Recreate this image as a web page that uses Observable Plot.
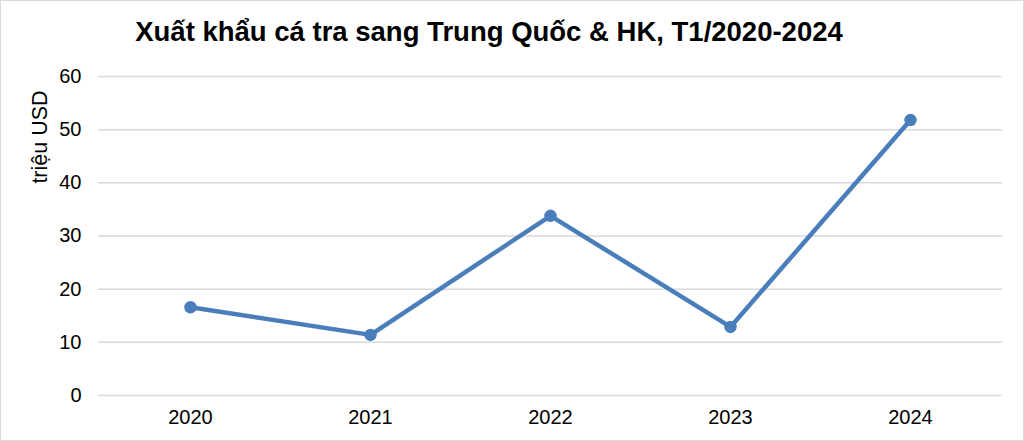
<!DOCTYPE html>
<html>
<head>
<meta charset="utf-8">
<script src="https://cdn.jsdelivr.net/npm/d3@7"></script>
<script src="https://cdn.jsdelivr.net/npm/@observablehq/plot@0.6"></script>
<style>
  html, body { margin: 0; padding: 0; background: #fff; }
  #wrap { position: relative; width: 1024px; height: 441px; overflow: hidden; font-family: "Liberation Sans", Arial, sans-serif; }
  #title { position: absolute; left: 0; width: 978px; top: 15px; text-align: center; font-weight: bold; font-size: 27.5px; line-height: 34px; color: #000; }
  #ylabel { position: absolute; left: 40px; top: 137px; transform: translate(-50%, -50%) rotate(-90deg); font-size: 21.5px; white-space: nowrap; color: #000; }
  #frame { position: absolute; left: 0; top: 0; width: 1022px; height: 439px; border: 1px solid #d9d9d9; pointer-events: none; }
  #chart svg { display: block; }
</style>
</head>
<body>
<div id="wrap">
  <div id="chart"></div>
  <div id="title">Xuất khẩu cá tra sang Trung Quốc &amp; HK, T1/2020-2024</div>
  <div id="ylabel">triệu USD</div>
  <div id="frame"></div>
</div>
<script>
const years = ["2020", "2021", "2022", "2023", "2024"];
const values = [16.6, 11.4, 33.8, 12.9, 51.8];
const yTicks = [0, 10, 20, 30, 40, 50, 60];

const data = years.map((y, i) => ({year: y, value: values[i]}));

const plot = Plot.plot({
  width: 1024,
  height: 441,
  marginTop: 76,
  marginBottom: 46,
  marginLeft: 98,
  marginRight: 22,
  style: {fontFamily: "'Liberation Sans', Arial, sans-serif", fontSize: "20px", color: "#000", background: "#fff"},
  x: {type: "point", domain: years, padding: 0.5, label: null},
  y: {domain: [0, 60], label: null},
  marks: [
    Plot.ruleY(yTicks, {stroke: "#d9d9d9", strokeWidth: 1.5}),
    Plot.axisY({ticks: yTicks, tickSize: 0, tickPadding: 17, label: null, fontSize: 20}),
    Plot.axisX({tickSize: 0, tickPadding: 14, label: null, fontSize: 20}),
    Plot.line(data, {x: "year", y: "value", stroke: "#4a7ebb", strokeWidth: 4.5}),
    Plot.dot(data, {x: "year", y: "value", r: 5.5, fill: "#4a7ebb", stroke: "#4a7ebb"})
  ]
});
document.getElementById("chart").appendChild(plot);
</script>
</body>
</html>
